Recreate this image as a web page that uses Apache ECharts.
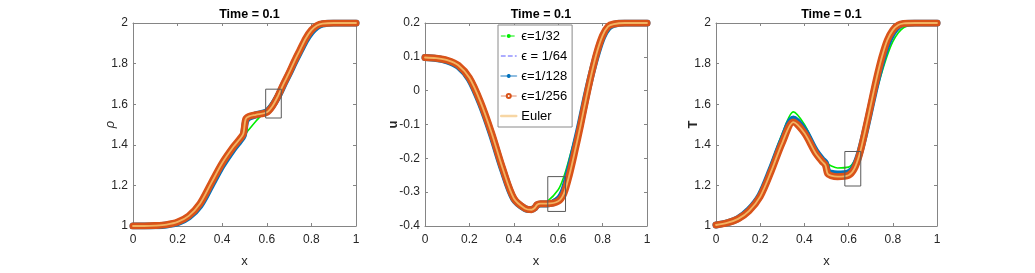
<!DOCTYPE html>
<html>
<head>
<meta charset="utf-8">
<script src="https://cdn.jsdelivr.net/npm/echarts@6/dist/echarts.min.js"></script>
<style>
html,body{margin:0;padding:0;background:#fff;}
#chart{width:1035px;height:273px;}
</style>
</head>
<body>
<div id="chart"></div>
<script>
// ---- data ----
const xs = [0,0.05,0.1,0.15,0.2,0.25,0.3,0.35,0.4,0.45,0.48,0.495,0.505,0.52,0.55,0.6,0.625,0.65,0.675,0.7,0.725,0.75,0.775,0.8,0.825,0.85,0.9,0.95,1];

const xTicks = ['0','0.2','0.4','0.6','0.8','1'];
const seriesNames = ['ϵ=1/32','ϵ = 1/64','ϵ=1/128','ϵ=1/256','Euler'];
const panelTitles = ['Time = 0.1','Time = 0.1','Time = 0.1'];
const yNames = ['ρ','u','T'];

// density rho
const rho32  = [1.0,1.0,1.001,1.005,1.017,1.046,1.102,1.2,1.3,1.382,1.42,1.44,1.455,1.475,1.515,1.575,1.615,1.665,1.72,1.775,1.83,1.88,1.925,1.96,1.983,1.994,2.0,2.0,2.0];
const rho64  = [1.0,1.0,1.001,1.005,1.016,1.045,1.1,1.2,1.3,1.382,1.422,1.447,1.49,1.52,1.545,1.566,1.6,1.645,1.7,1.755,1.81,1.865,1.917,1.957,1.983,1.995,2.0,2.0,2.0];
const rho128 = [1.0,1.0,1.001,1.005,1.016,1.044,1.1,1.198,1.298,1.38,1.422,1.447,1.515,1.535,1.547,1.563,1.593,1.638,1.695,1.75,1.808,1.862,1.915,1.955,1.982,1.995,2.0,2.0,2.0];
const rho256 = [1.0,1.0,1.002,1.007,1.02,1.05,1.11,1.21,1.31,1.39,1.43,1.455,1.525,1.54,1.548,1.56,1.59,1.64,1.70,1.755,1.815,1.87,1.925,1.965,1.988,1.997,2.0,2.0,2.0];
const rhoEuler = [1.0,1.0,1.002,1.007,1.02,1.05,1.11,1.21,1.31,1.39,1.43,1.456,1.526,1.54,1.548,1.56,1.59,1.64,1.70,1.755,1.815,1.87,1.925,1.965,1.988,1.997,2.0,2.0,2.0];

// velocity u
const u32  = [0.098,0.095,0.088,0.072,0.033,-0.038,-0.13,-0.234,-0.32,-0.345,-0.346,-0.343,-0.339,-0.335,-0.328,-0.293,-0.255,-0.2,-0.14,-0.075,-0.012,0.05,0.103,0.147,0.175,0.19,0.199,0.2,0.2];
const u64  = [0.098,0.095,0.088,0.072,0.034,-0.038,-0.13,-0.234,-0.32,-0.347,-0.349,-0.345,-0.339,-0.335,-0.332,-0.31,-0.277,-0.22,-0.155,-0.087,-0.016,0.051,0.108,0.152,0.181,0.194,0.2,0.2,0.2];
const u128 = [0.098,0.095,0.088,0.072,0.034,-0.038,-0.13,-0.234,-0.32,-0.348,-0.351,-0.346,-0.338,-0.335,-0.335,-0.322,-0.295,-0.236,-0.168,-0.097,-0.02,0.05,0.11,0.158,0.186,0.196,0.2,0.2,0.2];
const u256 = [0.098,0.096,0.09,0.075,0.038,-0.033,-0.125,-0.23,-0.318,-0.348,-0.352,-0.346,-0.337,-0.334,-0.334,-0.327,-0.305,-0.25,-0.18,-0.105,-0.025,0.05,0.115,0.163,0.19,0.197,0.2,0.2,0.2];
const uEuler = [0.098,0.096,0.09,0.075,0.038,-0.033,-0.125,-0.23,-0.318,-0.348,-0.352,-0.346,-0.337,-0.334,-0.334,-0.327,-0.305,-0.25,-0.18,-0.105,-0.025,0.05,0.115,0.163,0.19,0.197,0.2,0.2,0.2];

// temperature T
const T32  = [1.005,1.02,1.042,1.09,1.17,1.31,1.455,1.562,1.5,1.39,1.34,1.322,1.307,1.297,1.286,1.29,1.318,1.38,1.46,1.56,1.66,1.755,1.84,1.908,1.952,1.978,1.997,2.0,2.0];
const T64  = [1.005,1.017,1.038,1.082,1.156,1.285,1.425,1.532,1.475,1.375,1.332,1.315,1.28,1.268,1.263,1.268,1.296,1.365,1.465,1.58,1.695,1.8,1.885,1.945,1.982,1.996,2.0,2.0,2.0];
const T128 = [1.005,1.016,1.037,1.08,1.152,1.28,1.42,1.527,1.47,1.37,1.327,1.31,1.27,1.26,1.256,1.262,1.29,1.36,1.465,1.585,1.705,1.81,1.895,1.952,1.985,1.997,2.0,2.0,2.0];
const T256 = [1.005,1.015,1.035,1.075,1.145,1.27,1.41,1.512,1.458,1.36,1.318,1.3,1.258,1.248,1.243,1.25,1.28,1.355,1.47,1.595,1.72,1.83,1.915,1.965,1.99,1.998,2.0,2.0,2.0];
const TEuler = [1.005,1.015,1.035,1.075,1.145,1.27,1.41,1.512,1.458,1.36,1.318,1.3,1.258,1.248,1.243,1.25,1.28,1.355,1.47,1.595,1.72,1.83,1.915,1.965,1.99,1.998,2.0,2.0,2.0];

// zoom boxes [x0, x1, y0, y1]
const rhoBox = [0.595, 0.665, 1.532, 1.674];
const uBox   = [0.553, 0.633, -0.357, -0.254];
const TBox   = [0.583, 0.655, 1.197, 1.367];

// y-axis ranges
const rhoAxis = {min: 1, max: 2, interval: 0.2};
const uAxis   = {min: -0.4, max: 0.2, interval: 0.1};
const TAxis   = {min: 1, max: 2, interval: 0.2};

// ---- build chart ----
const FONT = '"Liberation Sans", Arial, Helvetica, sans-serif';
const AXIS_COLOR = '#858585';
const LABEL_COLOR = '#262626';

const grids = [
  {left: 133, top: 23, width: 223, height: 207},
  {left: 425, top: 23, width: 222, height: 207},
  {left: 716, top: 23, width: 221, height: 207}
];

const panels = [
  {sets: [rho32, rho64, rho128, rho256, rhoEuler], box: rhoBox, axis: rhoAxis, nameGap: 16, nameStyle: {fontStyle: 'italic', fontWeight: 'normal', fontSize: 13}},
  {sets: [u32, u64, u128, u256, uEuler], box: uBox, axis: uAxis, nameGap: 25, nameStyle: {fontWeight: 'bold', fontSize: 13}},
  {sets: [T32, T64, T128, T256, TEuler], box: TBox, axis: TAxis, nameGap: 16, nameStyle: {fontWeight: 'bold', fontSize: 13}}
];

const pair = arr => xs.map((x, i) => [x, arr[i]]);

const styles = [
  {color: '#00ee00', lineStyle: {width: 1.6, color: '#00ee00'}, symbol: 'circle'},
  {color: '#3a3aff', lineStyle: {width: 1, type: [5, 3], color: '#3a3aff'}, symbol: 'none'},
  {color: '#0072BD', lineStyle: {width: 7, color: '#0072BD'}, symbol: 'path://M5 0L5 10M0 5L10 5M1.5 1.5L8.5 8.5M8.5 1.5L1.5 8.5'},
  {color: '#D95319', lineStyle: {width: 7, color: '#D95319'}, symbol: 'emptyCircle'},
  {color: '#F0B060', lineStyle: {width: 1.8, color: '#F2B462'}, symbol: 'none'}
];

const xAxes = [], yAxes = [], series = [], titles = [];
grids.forEach((g, gi) => {
  const p = panels[gi];
  titles.push({
    text: panelTitles[gi],
    left: g.left + g.width / 2,
    top: 3,
    textAlign: 'center',
    textStyle: {fontFamily: FONT, fontSize: 12.5, fontWeight: 'bold', color: '#000'}
  });
  xAxes[gi] = {
    gridIndex: gi, type: 'value', min: 0, max: 1, interval: 0.2, position: 'bottom',
    name: 'x', nameLocation: 'middle', nameGap: 29, nameMoveOverlap: false,
    nameTextStyle: {fontFamily: FONT, fontSize: 13, color: LABEL_COLOR},
    axisLine: {show: true, onZero: false, lineStyle: {color: AXIS_COLOR, width: 1}},
    axisTick: {show: true, inside: true, length: 3, lineStyle: {color: AXIS_COLOR}},
    axisLabel: {margin: 8, fontFamily: FONT, fontSize: 12, color: LABEL_COLOR,
      formatter: v => xTicks[Math.round(v / 0.2)]},
    splitLine: {show: false}
  };
  xAxes[gi + 3] = {
    gridIndex: gi, type: 'value', min: 0, max: 1, interval: 0.2, position: 'top',
    axisLine: {show: true, onZero: false, lineStyle: {color: AXIS_COLOR, width: 1}},
    axisTick: {show: true, inside: true, length: 3, lineStyle: {color: AXIS_COLOR}},
    axisLabel: {show: false}, splitLine: {show: false}
  };
  yAxes[gi] = {
    gridIndex: gi, type: 'value', min: p.axis.min, max: p.axis.max, interval: p.axis.interval, position: 'left',
    name: yNames[gi], nameLocation: 'middle', nameGap: p.nameGap, nameRotate: 90, nameMoveOverlap: false,
    nameTextStyle: Object.assign({fontFamily: FONT, color: LABEL_COLOR}, p.nameStyle),
    axisLine: {show: true, onZero: false, lineStyle: {color: AXIS_COLOR, width: 1}},
    axisTick: {show: true, inside: true, length: 3, lineStyle: {color: AXIS_COLOR}},
    axisLabel: {margin: 5, fontFamily: FONT, fontSize: 12, color: LABEL_COLOR},
    splitLine: {show: false}
  };
  yAxes[gi + 3] = {
    gridIndex: gi, type: 'value', min: p.axis.min, max: p.axis.max, interval: p.axis.interval, position: 'right',
    axisLine: {show: true, onZero: false, lineStyle: {color: AXIS_COLOR, width: 1}},
    axisTick: {show: true, inside: true, length: 3, lineStyle: {color: AXIS_COLOR}},
    axisLabel: {show: false}, splitLine: {show: false}
  };
  p.sets.forEach((arr, si) => {
    const st = styles[si];
    series.push({
      name: seriesNames[si], type: 'line', xAxisIndex: gi, yAxisIndex: gi,
      data: pair(arr), showSymbol: false, symbol: st.symbol, symbolSize: 5,
      smooth: 0.3,
      itemStyle: {color: st.color},
      lineStyle: Object.assign({join: 'round', cap: 'round'}, st.lineStyle),
      emphasis: {disabled: true}, silent: true, z: 2 + si
    });
  });
  const b = p.box;
  series.push({
    name: 'box' + gi, type: 'line', xAxisIndex: gi, yAxisIndex: gi,
    data: [[b[0], b[2]], [b[1], b[2]], [b[1], b[3]], [b[0], b[3]], [b[0], b[2]]],
    showSymbol: false, symbol: 'none', silent: true, z: 10,
    lineStyle: {color: '#5a5a5a', width: 1}
  });
});

const legendItems = [
  {name: seriesNames[0], lineStyle: {width: 1, color: '#00ee00', type: [4, 2, 1, 2]}, itemStyle: {color: '#00ee00', opacity: 1}},
  {name: seriesNames[1], lineStyle: {width: 1, color: '#5a5aff', type: [4, 3]}, itemStyle: {opacity: 0}},
  {name: seriesNames[2], lineStyle: {width: 2, color: '#8fbde0'}, itemStyle: {color: '#0072BD', borderColor: '#0072BD', borderWidth: 1.2}},
  {name: seriesNames[3], lineStyle: {width: 1, color: '#e08a68'}, itemStyle: {color: '#D95319'}},
  {name: seriesNames[4], lineStyle: {width: 2.5, color: '#f7d6a4'}, itemStyle: {opacity: 0}}
];

const option = {
  animation: false,
  backgroundColor: '#fff',
  title: titles,
  legend: {
    data: legendItems,
    orient: 'vertical', left: 498, top: 25,
    itemWidth: 15, itemHeight: 5, itemGap: 6,
    padding: [4, 5, 4, 2],
    backgroundColor: '#fff', borderColor: '#8a8a8a', borderWidth: 1,
    textStyle: {fontFamily: FONT, fontSize: 13, color: '#000', lineHeight: 14},
    selectedMode: false
  },
  grid: grids.map(g => Object.assign({containLabel: false}, g)),
  xAxis: xAxes,
  yAxis: yAxes,
  series: series
};

const chart = echarts.init(document.getElementById('chart'), null, {renderer: 'canvas'});
chart.setOption(option);
</script>
</body>
</html>
